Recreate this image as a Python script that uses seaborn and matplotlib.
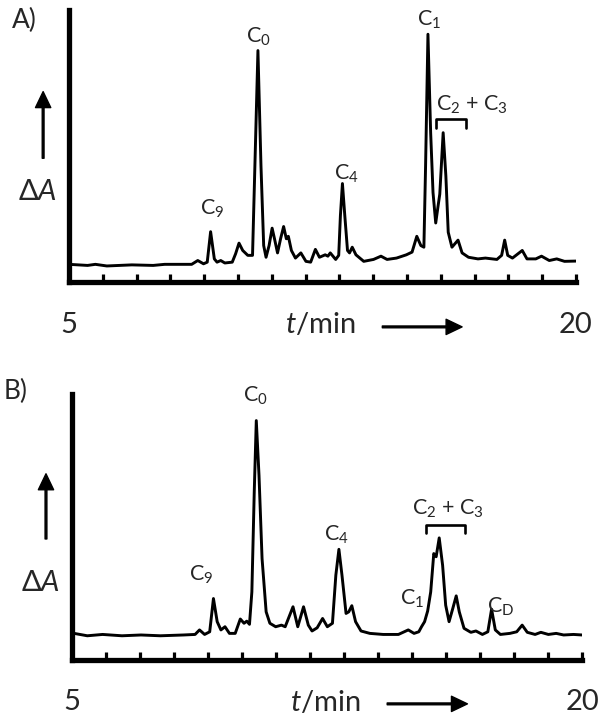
import numpy as np
import pandas as pd
import matplotlib
matplotlib.use("Agg")
import matplotlib.pyplot as plt
import seaborn as sns

# panel A trace (t in min, signal scaled so the top of the y axis is 1)
t_a = [5.0, 5.55, 5.78, 6.12, 6.86, 7.49, 7.83, 8.63, 8.81, 8.98, 9.09, 9.19, 9.30, 9.38,
       9.49, 9.61, 9.83, 9.93, 10.03, 10.14, 10.29, 10.43, 10.50, 10.59, 10.68, 10.76, 10.83,
       10.92, 11.01, 11.08, 11.17, 11.26, 11.35, 11.43, 11.49, 11.58, 11.70, 11.86, 12.01,
       12.15, 12.29, 12.41, 12.58, 12.66, 12.73, 12.89, 12.98, 13.03, 13.09, 13.16, 13.24,
       13.30, 13.38, 13.49, 13.72, 14.01, 14.23, 14.41, 14.69, 14.98, 15.15, 15.29, 15.41,
       15.50, 15.55, 15.62, 15.70, 15.77, 15.85, 15.92, 15.97, 16.07, 16.15, 16.22, 16.33,
       16.51, 16.63, 16.82, 17.10, 17.32, 17.66, 17.80, 17.89, 17.98, 18.12, 18.41, 18.55,
       18.81, 18.98, 19.21, 19.43, 19.66, 20.0]
dA_a = [0.065, 0.061, 0.065, 0.059, 0.063, 0.061, 0.065, 0.065, 0.079, 0.067, 0.073, 0.185,
        0.085, 0.073, 0.079, 0.070, 0.073, 0.104, 0.143, 0.116, 0.098, 0.098, 0.427, 0.851,
        0.427, 0.134, 0.091, 0.134, 0.198, 0.159, 0.107, 0.159, 0.204, 0.159, 0.168, 0.116,
        0.088, 0.107, 0.076, 0.073, 0.120, 0.091, 0.100, 0.095, 0.107, 0.083, 0.098, 0.244,
        0.362, 0.244, 0.116, 0.107, 0.128, 0.100, 0.076, 0.083, 0.095, 0.083, 0.088, 0.100,
        0.110, 0.168, 0.134, 0.128, 0.427, 0.911, 0.549, 0.329, 0.217, 0.280, 0.323, 0.549,
        0.390, 0.183, 0.128, 0.154, 0.107, 0.091, 0.085, 0.088, 0.083, 0.098, 0.154, 0.098,
        0.088, 0.116, 0.085, 0.085, 0.095, 0.079, 0.085, 0.076, 0.077]

# panel B trace
t_b = [5.06, 5.45, 5.90, 6.47, 7.03, 7.60, 8.28, 8.62, 8.75, 8.90, 9.05, 9.16, 9.27, 9.38,
       9.50, 9.63, 9.80, 9.95, 10.06, 10.14, 10.22, 10.29, 10.36, 10.42, 10.50, 10.59, 10.71,
       10.82, 10.99, 11.16, 11.27, 11.50, 11.64, 11.81, 11.95, 12.06, 12.21, 12.37, 12.51,
       12.66, 12.76, 12.85, 12.94, 13.06, 13.14, 13.23, 13.34, 13.50, 13.76, 14.15, 14.60,
       14.89, 15.06, 15.20, 15.28, 15.37, 15.46, 15.55, 15.64, 15.71, 15.80, 15.90, 15.99,
       16.09, 16.20, 16.30, 16.39, 16.53, 16.73, 16.88, 17.07, 17.23, 17.34, 17.45, 17.60,
       17.88, 18.08, 18.24, 18.39, 18.62, 18.79, 19.01, 19.24, 19.46, 19.75, 20.0]
dA_b = [0.100, 0.091, 0.096, 0.091, 0.094, 0.091, 0.094, 0.096, 0.113, 0.096, 0.106, 0.231,
        0.144, 0.113, 0.125, 0.100, 0.100, 0.154, 0.138, 0.146, 0.134, 0.256, 0.631, 0.900,
        0.694, 0.381, 0.181, 0.138, 0.125, 0.131, 0.125, 0.200, 0.125, 0.200, 0.131, 0.109,
        0.121, 0.156, 0.125, 0.138, 0.319, 0.416, 0.319, 0.175, 0.181, 0.204, 0.144, 0.109,
        0.100, 0.096, 0.096, 0.113, 0.100, 0.106, 0.125, 0.144, 0.184, 0.256, 0.400, 0.388,
        0.459, 0.356, 0.206, 0.144, 0.194, 0.241, 0.181, 0.119, 0.104, 0.109, 0.096, 0.106,
        0.191, 0.113, 0.096, 0.100, 0.106, 0.131, 0.104, 0.096, 0.104, 0.096, 0.100, 0.094,
        0.096, 0.094]

# peak labels
labels_a = ["C$_9$", "C$_0$", "C$_4$", "C$_1$", "C$_2$ + C$_3$"]
label_t_a = [9.24, 10.6, 13.2, 15.66, 16.92]
label_y_a = [0.268, 0.90, 0.396, 0.963, 0.652]
bracket_a = [15.86, 16.75]

labels_b = ["C$_9$", "C$_0$", "C$_4$", "C$_1$", "C$_2$ + C$_3$", "C$_\\mathregular{D}$"]
label_t_b = [8.79, 10.4, 12.77, 15.0, 16.07, 17.6]
label_y_b = [0.319, 0.994, 0.469, 0.231, 0.569, 0.20]
bracket_b = [15.42, 16.55]

sns.set_style("white")
plt.rcParams["font.family"] = ["Lato", "DejaVu Sans"]
plt.rcParams["mathtext.fontset"] = "custom"
plt.rcParams["mathtext.rm"] = "Lato"
plt.rcParams["mathtext.it"] = "Lato:italic"

fig = plt.figure(figsize=(6.02, 7.22), dpi=100)
ax_a = fig.add_axes([0.1146, 0.6094, 0.8422, 0.3767])
ax_b = fig.add_axes([0.1196, 0.0859, 0.8472, 0.3684])


def panel(ax, t, y, labels, lt, ly, bracket, bh, tag, tag_x, tag_y, da_y):
    df = pd.DataFrame({"t": t, "dA": y})
    sns.lineplot(data=df, x="t", y="dA", ax=ax, color="black", lw=2.1,
                 sort=False, estimator=None)
    ax.lines[-1].set_solid_joinstyle("round")
    ax.set_xlim(5, 20)
    ax.set_ylim(0, 1)
    ax.set_xlabel("")
    ax.set_ylabel("")
    ax.set_xticks(np.arange(6, 21, 1))
    ax.set_xticklabels([])
    ax.set_yticks([])
    ax.tick_params(axis="x", bottom=True, direction="in", length=5.6, width=2.3,
                   color="black")
    for s in ["top", "right"]:
        ax.spines[s].set_visible(False)
    for s in ["left", "bottom"]:
        ax.spines[s].set_color("black")
        ax.spines[s].set_linewidth(3.8)
        ax.spines[s].set_capstyle("projecting")

    for lab, x, yy in zip(labels, lt, ly):
        ax.text(x, yy, lab, ha="center", va="center", fontsize=15.5, clip_on=False)

    # bracket over the C2 + C3 group
    ax.plot([bracket[0], bracket[0], bracket[1], bracket[1]],
            [bh - 0.03, bh, bh, bh - 0.03], color="black", lw=1.9, clip_on=False)

    tr = ax.get_xaxis_transform()
    ax.text(5, -0.158, "5", transform=tr, ha="center", va="center", fontsize=21)
    ax.text(20, -0.158, "20", transform=tr, ha="center", va="center", fontsize=21)
    ax.text(12.45, -0.158, "$\\mathit{t}$/min", transform=tr, ha="center",
            va="center", fontsize=21)
    ax.annotate("", xy=(16.63, -0.165), xytext=(14.27, -0.165), xycoords=tr,
                textcoords=tr, annotation_clip=False,
                arrowprops=dict(width=1.3, headwidth=11, headlength=11.5,
                                color="black", shrink=0))

    ax.annotate("", xy=(-0.051, 0.70), xytext=(-0.051, 0.455),
                xycoords="axes fraction", textcoords="axes fraction",
                arrowprops=dict(width=1.3, headwidth=11, headlength=11.5,
                                color="black", shrink=0))
    ax.text(-0.062, da_y, "Δ$\\mathit{A}$", transform=ax.transAxes,
            ha="center", va="center", fontsize=21)
    ax.text(tag_x, tag_y, tag, transform=ax.transAxes, ha="center",
            va="center", fontsize=19)


panel(ax_a, t_a, dA_a, labels_a, label_t_a, label_y_a, bracket_a, 0.598,
      "A)", -0.089, 0.96, 0.331)
panel(ax_b, t_b, dA_b, labels_b, label_t_b, label_y_b, bracket_b, 0.506,
      "B)", -0.11, 1.011, 0.289)

fig.savefig("out.png", dpi=100, facecolor="white")
